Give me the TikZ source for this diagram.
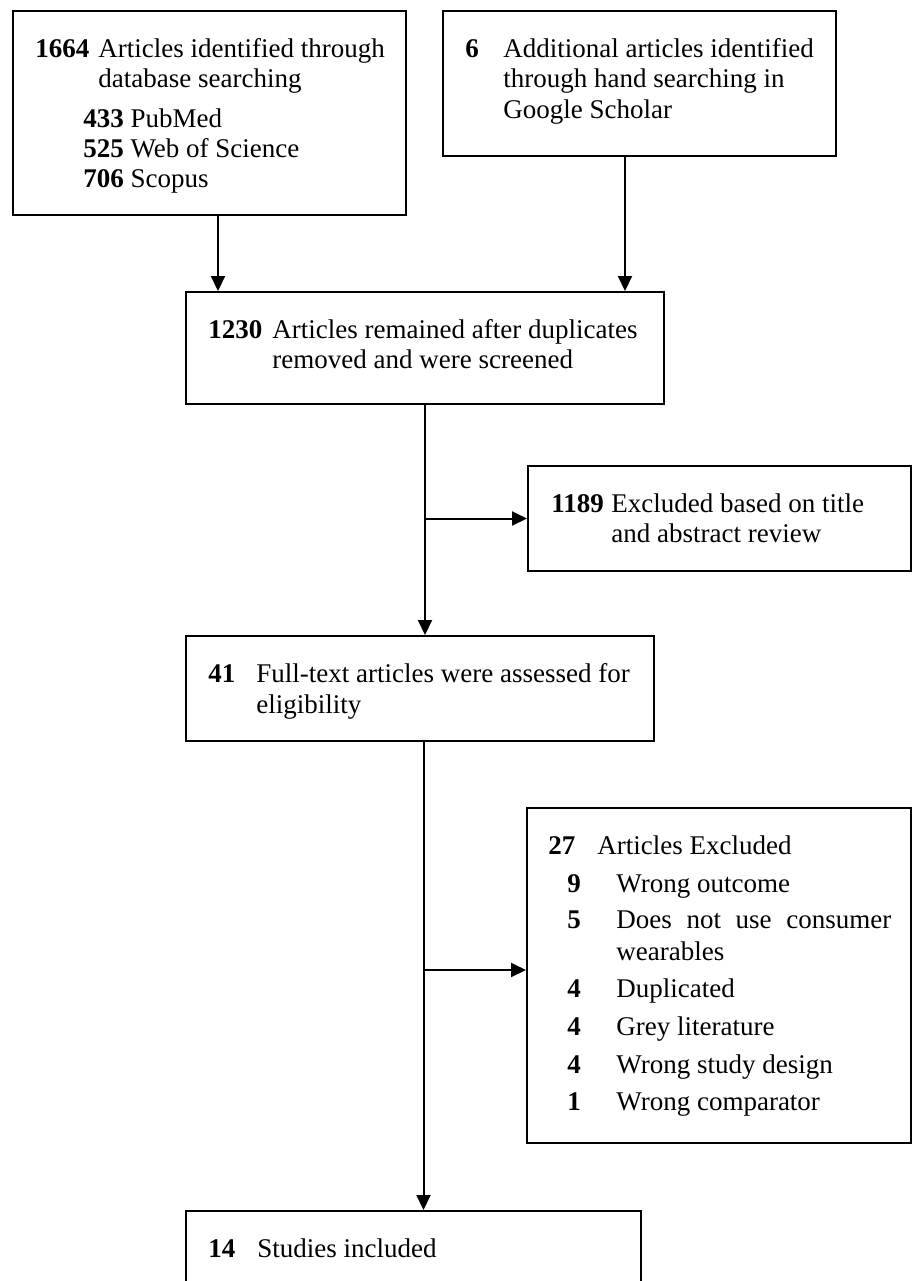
\documentclass[tikz,border=0pt]{standalone}
\usepackage{fontspec}
\setmainfont{Liberation Serif}
\usepackage{tikz}
\usetikzlibrary{arrows.meta,fit}
\tikzstyle{box}=[draw, rectangle, line width=1pt, inner sep=0pt]
\tikzstyle{txt}=[inner sep=0pt, anchor=base west, font=\fontsize{13.5pt}{15pt}\selectfont]
\tikzstyle{num}=[txt, font=\fontsize{13.5pt}{15pt}\selectfont\bfseries]
\tikzstyle{arr}=[line width=1pt, -{Triangle[length=7.5pt,width=7pt]}]

\begin{document}
\begin{tikzpicture}[x=0.5pt, y=-0.5pt]
        \useasboundingbox (0,0) rectangle (912,1281);
        % boxes
        \node(ident)  [box, fit={(13,11) (406,215)}]{};
        \node(extra)  [box, fit={(443,11) (836,156)}]{};
        \node(screen) [box, fit={(186,292) (664,404)}]{};
        \node(excl1)  [box, fit={(528,466) (911,571)}]{};
        \node(full)   [box, fit={(186,636) (654,741)}]{};
        \node(excl2)  [box, fit={(527,808) (911,1143)}]{};
        \node(incl)   [box, fit={(186,1211) (641,1330)}]{};
        % texts
        \node(n1664) [num] at (35,57){1664};
        \node(t1664) [txt] at (98,57){Articles identified through};
        \node(t1664b)[txt] at (98,87){database searching};
        \node(pubmed)[txt] at (83,127){\textbf{433} PubMed};
        \node(wos)   [txt] at (83,157){\textbf{525} Web of Science};
        \node(scopus)[txt] at (83,187){\textbf{706} Scopus};
        \node(n6)    [num] at (465,57){6};
        \node(t6)    [txt] at (503,57){Additional articles identified};
        \node(t6b)   [txt] at (503,87){through hand searching in};
        \node(t6c)   [txt] at (503,118){Google Scholar};
        \node(n1230) [num] at (208,338){1230};
        \node(t1230) [txt] at (272,338){Articles remained after duplicates};
        \node(t1230b)[txt] at (272,368){removed and were screened};
        \node(n1189) [num] at (551,512){1189};
        \node(t1189) [txt] at (611,512){Excluded based on title};
        \node(t1189b)[txt] at (611,542){and abstract review};
        \node(n41)   [num] at (208,682){41};
        \node(t41)   [txt] at (256,682){Full-text articles were assessed for};
        \node(t41b)  [txt] at (256,713){eligibility};
        \node(n27)   [num] at (548,854){27};
        \node(t27)   [txt] at (597,854){Articles Excluded};
        \foreach \n/\t/\y in {9/Wrong outcome/892,
                5/{\makebox[137.5pt][s]{Does not use consumer}}/928,
                4/Duplicated/997, 4/Grey literature/1035,
                4/Wrong study design/1073, 1/Wrong comparator/1110}{
            \node(rn\y) [num] at (567,\y){\n};
            \node(rt\y) [txt] at (616,\y){\t};
        }
        \node(rt960) [txt] at (616,960){wearables};
        \node(n14)   [num] at (208,1257){14};
        \node(t14)   [txt] at (257,1257){Studies included};
        % connectors
        \coordinate(la) at (218,0);
        \coordinate(lb) at (625,0);
        \coordinate(tr1) at (425,0);
        \coordinate(tr2) at (423.5,0);
        \coordinate(br2) at (423.5,970);
        \draw[arr] (ident.south -| la) to (screen.north -| la);
        \draw[arr] (extra.south -| lb) to (screen.north -| lb);
        \draw[arr] (screen.south -| tr1) to (full.north -| tr1);
        \draw[arr] (excl1.west -| tr1) to (excl1.west);
        \draw[arr] (full.south -| tr2) to (incl.north -| tr2);
        \draw[arr] (br2) to (br2 -| excl2.west);
     \end{tikzpicture}
\end{document}
